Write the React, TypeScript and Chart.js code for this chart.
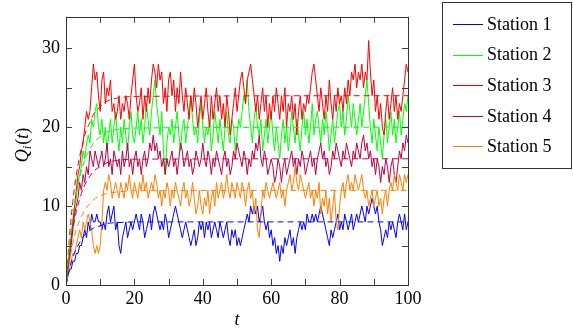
import React, { useEffect, useRef } from "react";
import { Chart, registerables } from "chart.js";

Chart.register(...registerables);

// Sampling step of the simulated trajectories (t = 0, 0.5, ..., 100)
const STEP = 0.5;

const station1 = [
  0, 1, 2, 2, 3, 3, 4, 4, 5, 5, 6,
  7, 6, 8, 7, 9, 8, 8, 9, 8, 8,
  7, 8, 7, 9, 10, 8, 9, 10, 7, 8,
  5, 4, 6, 7, 8, 6, 7, 8, 7, 8,
  9, 8, 7, 9, 8, 6, 7, 8, 9, 7,
  9, 10, 9, 8, 7, 8, 7, 9, 8, 6,
  7, 8, 9, 10, 9, 8, 7, 6, 7, 8,
  7, 6, 5, 6, 7, 5, 6, 8, 7, 8,
  6, 8, 7, 8, 6, 7, 8, 7, 6, 8,
  7, 6, 7, 8, 6, 5, 7, 6, 7, 5,
  6, 5, 6, 7, 8, 9, 8, 10, 9, 10,
  9, 10, 8, 9, 10, 8, 7, 8, 6, 7,
  5, 6, 4, 5, 3, 5, 4, 6, 5, 6,
  7, 5, 6, 4, 6, 7, 8, 7, 8, 7,
  9, 8, 8, 9, 8, 9, 8, 9, 10, 9,
  8, 7, 6, 5, 7, 6, 7, 8, 9, 7,
  8, 7, 9, 8, 7, 8, 9, 7, 8, 9,
  8, 9, 10, 9, 8, 10, 9, 10, 11, 10,
  9, 10, 8, 7, 5, 6, 7, 6, 8, 7,
  8, 7, 6, 8, 9, 8, 7, 9, 7, 8,
];

const station2 = [
  0, 2, 4, 6, 8, 10, 11, 13, 14, 15, 17,
  16, 18, 19, 18, 21, 20, 22, 23, 20, 19,
  21, 18, 20, 17, 19, 21, 18, 20, 22, 19,
  17, 20, 18, 21, 19, 17, 20, 22, 19, 18,
  20, 22, 19, 21, 18, 20, 23, 21, 19, 22,
  24, 26, 23, 21, 19, 22, 17, 14, 18, 20,
  19, 21, 18, 20, 22, 19, 17, 20, 21, 18,
  20, 22, 24, 21, 19, 20, 18, 21, 23, 20,
  18, 20, 19, 21, 17, 19, 22, 20, 18, 21,
  19, 17, 20, 22, 19, 18, 21, 20, 17, 19,
  21, 20, 22, 24, 23, 26, 22, 20, 18, 21,
  23, 20, 19, 21, 17, 19, 21, 18, 20, 22,
  19, 17, 20, 18, 16, 19, 21, 18, 20, 17,
  19, 22, 20, 18, 21, 19, 17, 20, 22, 19,
  21, 18, 20, 23, 19, 21, 22, 20, 18, 21,
  19, 22, 20, 17, 19, 21, 18, 20, 22, 23,
  20, 22, 19, 21, 24, 22, 20, 23, 21, 19,
  21, 23, 20, 22, 24, 26, 23, 20, 18, 21,
  19, 17, 20, 18, 16, 19, 21, 18, 20, 22,
  19, 21, 18, 20, 22, 19, 21, 23, 22, 24,
];

const station3 = [
  0, 2, 4, 6, 8, 10, 12, 14, 15, 17, 18,
  20, 22, 21, 22, 25, 28, 26, 27, 24, 22,
  26, 27, 23, 25, 24, 26, 22, 23, 21, 22,
  24, 21, 23, 22, 24, 23, 21, 24, 26, 28,
  24, 22, 23, 25, 21, 24, 22, 25, 23, 26,
  28, 27, 25, 28, 26, 27, 23, 25, 22, 26,
  27, 24, 26, 22, 25, 23, 27, 24, 22, 25,
  23, 21, 24, 22, 25, 23, 20, 22, 24, 21,
  23, 25, 22, 20, 24, 21, 23, 25, 22, 24,
  21, 23, 20, 24, 22, 19, 21, 23, 25, 22,
  24, 26, 27, 25, 23, 26, 27, 28, 26, 24,
  22, 24, 21, 23, 25, 22, 24, 20, 23, 21,
  24, 22, 25, 23, 21, 24, 22, 25, 20, 23,
  22, 24, 21, 23, 19, 22, 24, 21, 23, 22,
  24, 23, 25, 27, 28, 26, 24, 22, 25, 23,
  21, 24, 22, 26, 23, 21, 24, 22, 25, 23,
  24, 22, 25, 23, 26, 24, 27, 26, 28, 25,
  27, 26, 28, 25, 27, 26, 31, 27, 24, 26,
  22, 24, 21, 23, 20, 19, 22, 24, 21, 23,
  25, 22, 24, 21, 23, 22, 24, 26, 28, 27,
];

const station4 = [
  0, 2, 3, 5, 7, 9, 10, 11, 13, 12, 14,
  13, 15, 14, 17, 16, 15, 17, 16, 15, 16,
  17, 15, 16, 18, 15, 16, 14, 17, 16, 15,
  16, 14, 17, 15, 16, 18, 15, 16, 14, 16,
  17, 15, 16, 14, 16, 17, 15, 16, 18, 17,
  19, 17, 18, 16, 17, 15, 16, 14, 16, 15,
  16, 17, 15, 16, 14, 16, 18, 17, 15, 16,
  17, 15, 16, 14, 15, 17, 16, 15, 16, 18,
  16, 15, 17, 16, 14, 16, 15, 17, 16, 15,
  14, 16, 17, 15, 16, 14, 15, 17, 16, 18,
  17, 16, 15, 17, 16, 14, 16, 15, 17, 16,
  18, 17, 19, 16, 15, 17, 16, 14, 15, 16,
  15, 13, 14, 16, 15, 13, 15, 16, 14, 15,
  16, 17, 15, 16, 14, 16, 15, 17, 16, 14,
  15, 16, 17, 15, 16, 14, 16, 17, 18, 16,
  17, 15, 16, 14, 15, 17, 16, 18, 17, 16,
  15, 17, 16, 18, 17, 16, 15, 17, 16, 18,
  17, 16, 18, 19, 17, 18, 16, 17, 15, 16,
  14, 16, 15, 13, 15, 14, 16, 15, 13, 15,
  16, 14, 13, 15, 17, 16, 18, 17, 19, 18,
];

const station5 = [
  0, 1, 2, 3, 4, 4, 5, 6, 7, 6, 8,
  7, 8, 9, 8, 7, 5, 4, 5, 4, 5,
  8, 12, 13, 12, 14, 13, 11, 12, 13, 12,
  11, 13, 12, 11, 13, 12, 14, 12, 11, 13,
  12, 11, 13, 12, 14, 12, 13, 11, 12, 13,
  12, 14, 13, 11, 12, 10, 12, 11, 13, 12,
  10, 12, 11, 13, 12, 11, 10, 12, 13, 11,
  12, 10, 11, 13, 11, 9, 10, 12, 10, 9,
  11, 10, 12, 9, 11, 12, 10, 13, 11, 12,
  13, 11, 12, 14, 12, 11, 13, 12, 11, 13,
  12, 11, 13, 12, 10, 12, 13, 11, 12, 9,
  11, 7, 6, 9, 12, 11, 13, 12, 11, 12,
  13, 12, 11, 12, 13, 11, 12, 10, 12, 13,
  14, 12, 13, 15, 13, 12, 14, 13, 12, 11,
  12, 13, 11, 12, 10, 12, 11, 13, 9, 11,
  10, 12, 9, 11, 8, 10, 12, 8, 7, 10,
  12, 13, 11, 13, 14, 12, 13, 12, 14, 13,
  12, 13, 14, 12, 11, 12, 10, 11, 12, 10,
  11, 12, 10, 11, 9, 11, 12, 10, 12, 13,
  12, 14, 13, 12, 14, 13, 12, 14, 13, 14,
];

// Expected values (dashed curves)
const meanTimes = [0, 1, 2, 3, 4, 5, 6, 7, 8, 10, 12, 15, 20, 100];
const mean1 = [0, 2.0, 3.5, 4.6, 5.4, 6.1, 6.6, 6.9, 7.2, 7.5, 7.8, 7.9, 8.0, 8.0];
const mean2 = [0, 5.0, 8.8, 11.6, 13.6, 15.2, 16.4, 17.2, 18.0, 18.8, 19.4, 19.7, 19.9, 20];
const mean3 = [0, 6.0, 10.6, 13.9, 16.3, 18.2, 19.7, 20.6, 21.6, 22.6, 23.3, 23.7, 23.9, 24];
const mean4 = [0, 4.0, 7.0, 9.3, 10.9, 12.2, 13.1, 13.8, 14.4, 15.0, 15.5, 15.8, 15.95, 16];
const mean5 = [0, 3.0, 5.3, 7.0, 8.2, 9.1, 9.8, 10.3, 10.8, 11.3, 11.6, 11.8, 11.95, 12];

const seriesNames = ["Station 1", "Station 2", "Station 3", "Station 4", "Station 5"];
const seriesColors = ["#0000ff", "#00ff00", "#ff0000", "#bf0040", "#ff8000"];

const xTickValues = [0, 10, 20, 30, 40, 50, 60, 70, 80, 90, 100];
const xTickLabels = [0, 20, 40, 60, 80, 100];
const yTickValues = [0, 5, 10, 15, 20, 25, 30];
const yTickLabels = [0, 10, 20, 30];

const FONT = "'Liberation Serif', 'DejaVu Serif', serif";

const toPoints = (vals: number[]) => vals.map((v, i) => ({ x: i * STEP, y: v }));
const toMeanPoints = (vals: number[]) => vals.map((v, i) => ({ x: meanTimes[i], y: v }));

const framePlugin = {
  id: "pgfFrame",
  afterDatasetsDraw(chart: any) {
    const { ctx, chartArea } = chart;
    const { left, right, top, bottom } = chartArea;
    const xs = chart.scales.x;
    const ys = chart.scales.y;
    ctx.save();
    ctx.strokeStyle = "#404040";
    ctx.lineWidth = 1;
    const TL = 6;
    ctx.beginPath();
    xTickValues.forEach((v) => {
      const px = Math.round(xs.getPixelForValue(v)) + 0.5;
      ctx.moveTo(px, bottom);
      ctx.lineTo(px, bottom - TL);
      ctx.moveTo(px, top);
      ctx.lineTo(px, top + TL);
    });
    yTickValues.forEach((v) => {
      const py = Math.round(ys.getPixelForValue(v)) + 0.5;
      ctx.moveTo(left, py);
      ctx.lineTo(left + TL, py);
      ctx.moveTo(right, py);
      ctx.lineTo(right - TL, py);
    });
    ctx.stroke();
    ctx.strokeStyle = "#333333";
    ctx.strokeRect(Math.round(left) + 0.5, Math.round(top) + 0.5, Math.round(right - left), Math.round(bottom - top));

    // Axis titles
    ctx.fillStyle = "#000";
    ctx.textBaseline = "middle";
    ctx.textAlign = "center";
    ctx.font = `italic 18px ${FONT}`;
    ctx.fillText("t", (left + right) / 2, 320);

    // y title: Q_i(t), rotated
    ctx.translate(22, 145);
    ctx.rotate(-Math.PI / 2);
    ctx.textAlign = "left";
    ctx.textBaseline = "alphabetic";
    ctx.font = `italic 18px ${FONT}`;
    const wQ = ctx.measureText("Q").width;
    ctx.font = `italic 13px ${FONT}`;
    const wI = ctx.measureText("i").width;
    ctx.font = `18px ${FONT}`;
    const wP1 = ctx.measureText("(").width;
    ctx.font = `italic 18px ${FONT}`;
    const wT = ctx.measureText("t").width;
    ctx.font = `18px ${FONT}`;
    const wP2 = ctx.measureText(")").width;
    const total = wQ + wI + 1 + wP1 + wT + wP2;
    let cx = -total / 2;
    const base = 6;
    ctx.font = `italic 18px ${FONT}`;
    ctx.fillText("Q", cx, base);
    cx += wQ;
    ctx.font = `italic 13px ${FONT}`;
    ctx.fillText("i", cx, base + 3);
    cx += wI + 1;
    ctx.font = `18px ${FONT}`;
    ctx.fillText("(", cx, base);
    cx += wP1;
    ctx.font = `italic 18px ${FONT}`;
    ctx.fillText("t", cx, base);
    cx += wT;
    ctx.font = `18px ${FONT}`;
    ctx.fillText(")", cx, base);
    ctx.restore();
  },
};

const legendPlugin = {
  id: "pgfLegend",
  afterDraw(chart: any) {
    const { ctx } = chart;
    ctx.save();
    const bx = 442, by = 2, bw = 129, bh = 166;
    ctx.fillStyle = "#fff";
    ctx.fillRect(bx, by, bw, bh);
    ctx.strokeStyle = "#333333";
    ctx.lineWidth = 1;
    ctx.strokeRect(bx + 0.5, by + 0.5, bw, bh);
    ctx.font = `18px ${FONT}`;
    ctx.textBaseline = "middle";
    ctx.textAlign = "left";
    seriesNames.forEach((name, i) => {
      const y = 24 + i * 30.6;
      ctx.strokeStyle = seriesColors[i];
      ctx.beginPath();
      ctx.moveTo(453, Math.round(y) + 0.5);
      ctx.lineTo(483, Math.round(y) + 0.5);
      ctx.stroke();
      ctx.fillStyle = "#000";
      ctx.fillText(name, 487, y + 1);
    });
    ctx.restore();
  },
};

export default function App() {
  const canvasRef = useRef<HTMLCanvasElement | null>(null);

  useEffect(() => {
    document.body.style.margin = "0";
    const canvas = canvasRef.current;
    if (!canvas) return;
    const all = [station1, station2, station3, station4, station5];
    const means = [mean1, mean2, mean3, mean4, mean5];
    const datasets: any[] = [];
    all.forEach((vals, i) => {
      datasets.push({
        label: seriesNames[i],
        data: toPoints(vals),
        borderColor: seriesColors[i],
        borderWidth: 1,
        pointRadius: 0,
        tension: 0,
        fill: false,
        order: 10 - i,
      });
    });
    means.forEach((vals, i) => {
      datasets.push({
        label: seriesNames[i] + " mean",
        data: toMeanPoints(vals),
        borderColor: seriesColors[i],
        borderWidth: 1,
        borderDash: [6, 4],
        pointRadius: 0,
        cubicInterpolationMode: "monotone",
        fill: false,
        order: 0,
      });
    });

    const chart = new Chart(canvas, {
      type: "line",
      data: { datasets },
      options: {
        animation: false,
        responsive: false,
        devicePixelRatio: 1,
        parsing: false,
        layout: { padding: { top: 2, right: 165, bottom: 0, left: 0 } },
        plugins: {
          legend: { display: false },
          tooltip: { enabled: false },
        },
        scales: {
          x: {
            type: "linear",
            min: 0,
            max: 100,
            afterBuildTicks: (s: any) => {
              s.ticks = xTickValues.map((v) => ({ value: v }));
            },
            afterFit: (s: any) => {
              s.height = 48;
            },
            ticks: {
              autoSkip: false,
              maxRotation: 0,
              padding: 3,
              color: "#000",
              font: { family: FONT, size: 18 },
              callback: (v: any) => (xTickLabels.includes(Number(v)) ? String(v) : ""),
            },
            grid: { display: false, drawTicks: false },
            border: { display: false },
          },
          y: {
            type: "linear",
            min: 0,
            max: 34,
            afterBuildTicks: (s: any) => {
              s.ticks = yTickValues.map((v) => ({ value: v }));
            },
            afterFit: (s: any) => {
              s.width = 66;
            },
            ticks: {
              autoSkip: false,
              padding: 6,
              color: "#000",
              font: { family: FONT, size: 18 },
              callback: (v: any) => (yTickLabels.includes(Number(v)) ? String(v) : ""),
            },
            grid: { display: false, drawTicks: false },
            border: { display: false },
          },
        },
      } as any,
      plugins: [framePlugin, legendPlugin],
    });
    let alive = true;
    const fontsApi = (document as any).fonts;
    if (fontsApi && fontsApi.load) {
      Promise.all([
        fontsApi.load("18px 'Liberation Serif'"),
        fontsApi.load("italic 18px 'Liberation Serif'"),
      ])
        .then(() => {
          if (alive) chart.update();
        })
        .catch(() => {});
    }
    return () => {
      alive = false;
      chart.destroy();
    };
  }, []);

  return (
    <div style={{ position: "absolute", left: 0, top: 0, width: 573, height: 333, background: "#fff" }}>
      <canvas ref={canvasRef} width={573} height={333} />
    </div>
  );
}
